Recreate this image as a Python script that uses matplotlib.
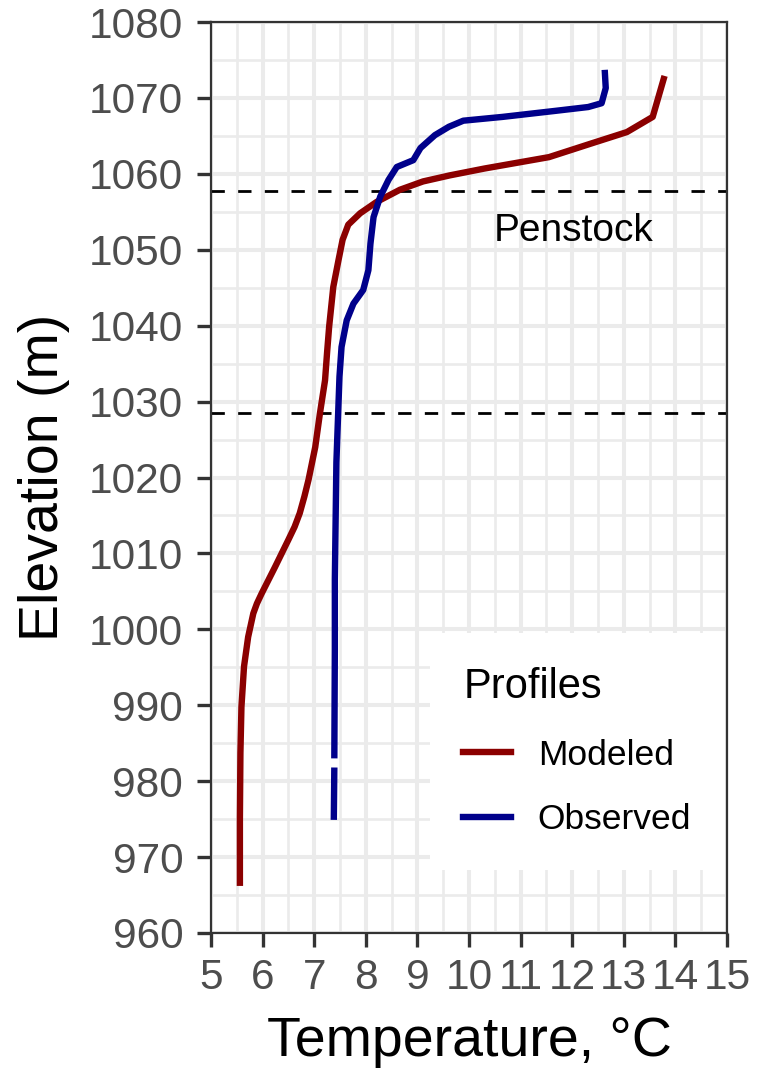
import numpy as np
import matplotlib
matplotlib.use('Agg')
import matplotlib.pyplot as plt
from matplotlib.lines import Line2D

plt.rcParams['font.family'] = ['Liberation Sans', 'DejaVu Sans']

# modeled profile (red)
mod_elev = [966.2, 975.0, 983.7, 989.8, 995.1, 999.0, 1002.1, 1003.4, 1004.7, 1008.2,
            1011.8, 1013.5, 1015.3, 1017.5, 1019.7, 1024.0, 1028.4, 1032.8, 1036.5, 1039.9,
            1045.1, 1048.6, 1051.3, 1053.3, 1054.8, 1056.3, 1057.9, 1059.0, 1059.8, 1060.7,
            1062.2, 1064.0, 1065.5, 1067.5, 1072.9]
mod_temp = [5.56, 5.56, 5.57, 5.59, 5.64, 5.72, 5.82, 5.89, 5.98, 6.24,
            6.50, 6.62, 6.72, 6.81, 6.89, 7.02, 7.11, 7.21, 7.25, 7.29,
            7.37, 7.47, 7.55, 7.66, 7.89, 8.21, 8.66, 9.11, 9.63, 10.30,
            11.55, 12.37, 13.06, 13.56, 13.79]

# observed profile (blue), one missing reading near 982 m
obs_elev = [974.9, 981.8, np.nan, 983.0, 997.3, 1006.6, 1022.0, 1033.3, 1037.2, 1040.7,
            1042.9, 1044.7, 1047.3, 1050.8, 1054.3, 1057.0, 1059.2, 1060.9, 1061.8, 1063.4,
            1065.1, 1066.2, 1067.0, 1067.5, 1068.3, 1068.8, 1069.3, 1071.3, 1073.7]
obs_temp = [7.38, 7.39, np.nan, 7.39, 7.40, 7.40, 7.43, 7.49, 7.53, 7.63,
            7.76, 7.95, 8.05, 8.09, 8.15, 8.28, 8.44, 8.60, 8.92, 9.06,
            9.34, 9.61, 9.89, 10.65, 11.68, 12.31, 12.57, 12.65, 12.63]

penstock = [1057.8, 1028.5]
x_ticks = list(range(5, 16))
y_ticks = list(range(960, 1081, 10))

fig = plt.figure(figsize=(7.62, 10.71), dpi=100)
ax = fig.add_axes([211 / 762, 138 / 1071, 516 / 762, 911 / 1071])

ax.set_xlim(5, 15)
ax.set_ylim(960, 1080)
ax.set_xticks(x_ticks)
ax.set_yticks(y_ticks)
ax.set_xticks(np.arange(5.5, 15, 1), minor=True)
ax.set_yticks(np.arange(965, 1080, 10), minor=True)
ax.grid(which='major', color='#EBEBEB', lw=2.9, zorder=0)
ax.grid(which='minor', color='#EBEBEB', lw=1.9, zorder=0)
ax.set_axisbelow(True)

for y in penstock:
    ax.axhline(y, color='black', lw=2.0, ls=(0, (4.8, 4.8)), zorder=2)

ax.plot(mod_temp, mod_elev, color='#8B0000', lw=4.6, zorder=3, solid_capstyle='butt')
ax.plot(obs_temp, obs_elev, color='#00008B', lw=4.6, zorder=3, solid_capstyle='butt')

ax.text(12.03, 1052.5, 'Penstock', ha='center', va='center', fontsize=28)

for s in ax.spines.values():
    s.set_color('#333333')
    s.set_linewidth(1.6)
ax.tick_params(which='major', length=10, width=2.4, color='#333333',
               labelsize=30.5, labelcolor='#4D4D4D')
ax.tick_params(axis='y', pad=10)
ax.tick_params(axis='x', pad=8)
ax.tick_params(which='minor', length=0)

ax.set_xlabel('Temperature, °C', fontsize=40, labelpad=13)
ax.set_ylabel('Elevation (m)', fontsize=40, labelpad=14)

handles = [Line2D([], [], color='#8B0000', lw=4.6),
           Line2D([], [], color='#00008B', lw=4.6)]
leg = ax.legend(handles, ['Modeled', 'Observed'], title='Profiles',
                loc='lower right', bbox_to_anchor=(0.996, 0.069), borderaxespad=0,
                fontsize=25.5, title_fontsize=30, frameon=True, fancybox=False,
                facecolor='white', edgecolor='none', framealpha=1,
                borderpad=0.95, handlelength=1.35, handletextpad=0.75,
                labelspacing=0.9, alignment='left')
leg.set_zorder(5)

fig.savefig('out.png', dpi=100)
